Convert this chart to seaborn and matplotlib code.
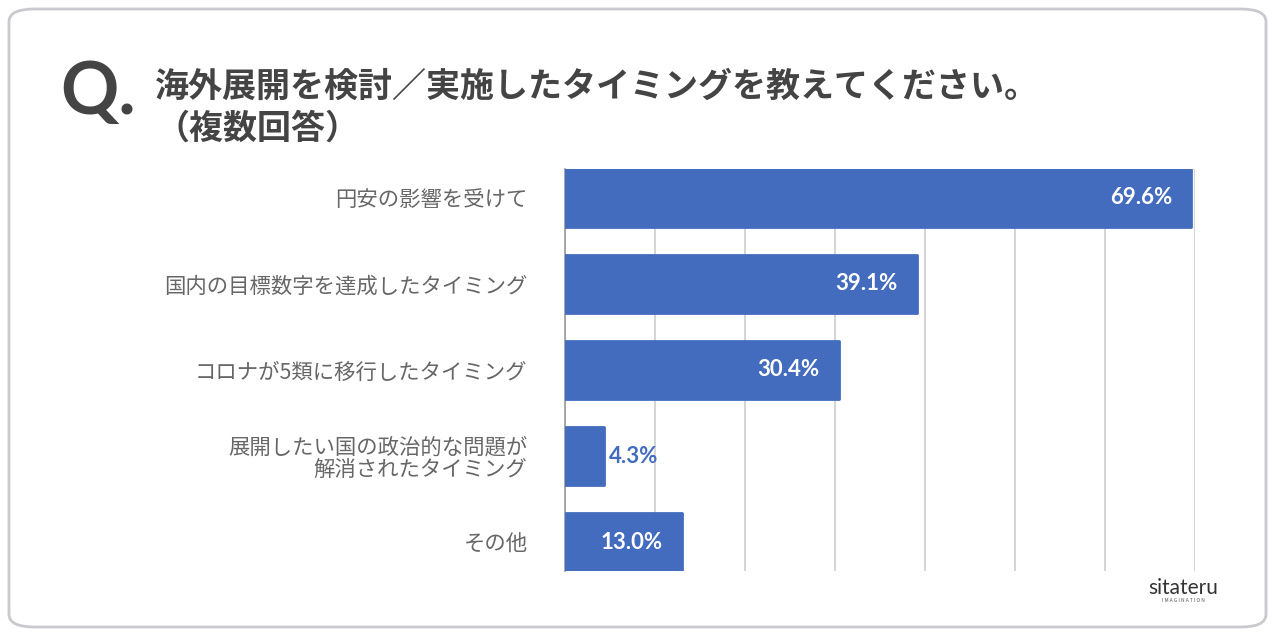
import pandas as pd
import matplotlib
matplotlib.use("Agg")
import matplotlib.pyplot as plt
from matplotlib.patches import FancyBboxPatch
import seaborn as sns

# データ
categories = [
    "円安の影響を受けて",
    "国内の目標数字を達成したタイミング",
    "コロナが5類に移行したタイミング",
    "展開したい国の政治的な問題が\n解消されたタイミング",
    "その他",
]
values = [69.6, 39.1, 30.4, 4.3, 13.0]
title_line1 = "海外展開を検討／実施したタイミングを教えてください。"
title_line2 = "（複数回答）"

df = pd.DataFrame({"項目": categories, "割合": values})

sns.set_theme(style="white")
plt.rcParams["font.family"] = ["Noto Sans CJK JP", "DejaVu Sans"]

bar_color = "#436BBE"
text_gray = "#676767"

fig = plt.figure(figsize=(12.75, 6.36), dpi=100)
fig.patch.set_facecolor("white")

# 外枠
frame = FancyBboxPatch((9 / 1275, 9 / 636), 1257 / 1275, 618 / 636,
                       boxstyle="round,pad=0,rounding_size=0.02",
                       transform=fig.transFigure, facecolor="none",
                       edgecolor="#C9C9CF", linewidth=2, zorder=0)
fig.patches.append(frame)

ax = fig.add_axes([565 / 1275, 65 / 636, 630 / 1275, 402 / 636])
ax.set_facecolor("none")

sns.barplot(data=df, x="割合", y="項目", orient="h", color=bar_color,
            width=0.675, saturation=1, ax=ax, zorder=3)
for p in ax.patches:
    p.set_edgecolor(bar_color)
    p.set_linewidth(2)
    p.set_joinstyle("round")

ax.set_xlim(0, 70)
ax.set_ylim(4 + 0.337, -0.337)
ax.set_xticks(range(0, 71, 10))
ax.xaxis.grid(True, color="#D4D4D4", linewidth=1.4, zorder=0)
ax.set_axisbelow(True)
for s in ["top", "right", "bottom"]:
    ax.spines[s].set_visible(False)
ax.spines["left"].set_color("#9A9A9A")
ax.spines["left"].set_linewidth(1.2)
ax.set_xticklabels([])
ax.tick_params(axis="x", length=0)
ax.tick_params(axis="y", length=0, pad=27, labelsize=15.4, labelcolor=text_gray)
ax.set_xlabel("")
ax.set_ylabel("")
for lbl in ax.get_yticklabels():
    lbl.set_multialignment("right")
    lbl.set_linespacing(1.0)

# 値ラベル
for i, v in enumerate(values):
    txt = f"{v:.1f}%"
    if v >= 10:
        ax.annotate(txt, (v, i), xytext=(-14, 0), textcoords="offset points",
                    ha="right", va="center", color="white", fontsize=16,
                    fontweight="bold", family=["Lato", "DejaVu Sans"], zorder=5)
    else:
        ax.annotate(txt, (v, i), xytext=(4, 0), textcoords="offset points",
                    ha="left", va="center", color=bar_color, fontsize=16,
                    fontweight="bold", family=["Lato", "DejaVu Sans"], zorder=5)

# タイトル
fig.text(60 / 1275, 1 - 93 / 636, "Q.", fontsize=52, fontweight="bold",
         color="#444444", family=["Lato", "DejaVu Sans"], va="center", ha="left")
fig.text(155 / 1275, 1 - 86 / 636, title_line1, fontsize=24.5, fontweight="bold",
         color="#444444", va="center", ha="left")
fig.text(155 / 1275, 1 - 128 / 636, title_line2, fontsize=24.5, fontweight="bold",
         color="#444444", va="center", ha="left")

# ロゴ
fig.text(1183 / 1275, 1 - 588 / 636, "sitateru", fontsize=15, color="#333333",
         family=["Lato", "DejaVu Sans"], ha="center", va="center")
fig.text(1183 / 1275, 1 - 600 / 636, "I M A G I N A T I O N", fontsize=3.5,
         color="#555555", ha="center", va="center")

fig.savefig("out.png", dpi=100, facecolor="white")
